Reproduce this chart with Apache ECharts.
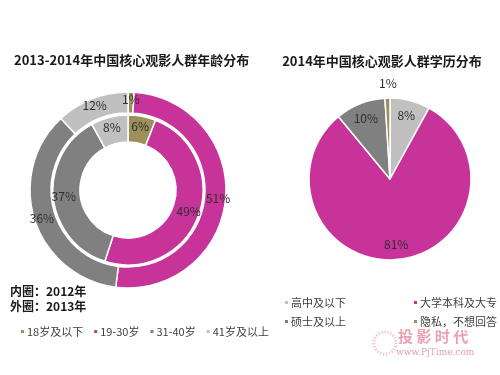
<!DOCTYPE html>
<html>
<head>
<meta charset="utf-8">
<script src="https://cdn.jsdelivr.net/npm/echarts@6/dist/echarts.min.js"></script>
<style>
  html, body { margin: 0; padding: 0; background: #fff; }
  #main { width: 500px; height: 375px; }
</style>
</head>
<body>
<div id="main"></div>
<script>
// 年龄分布
var ageNames = ["18岁及以下", "19-30岁", "31-40岁", "41岁及以上"];
var age2012 = [6, 49, 37, 8];   // 内圈
var age2013 = [1, 51, 36, 12];  // 外圈
// 学历分布
var eduNames = ["高中及以下", "大学本科及大专", "硕士及以上", "隐私，不想回答"];
var edu2014 = [8, 81, 10, 1];

var colors = ["#9c8f5c", "#c8339a", "#808080", "#c0c0c0"];
var eduColors = ["#c0c0c0", "#c8339a", "#808080", "#9c8f5c"];
var font = "'Noto Sans CJK SC', sans-serif";

function toData(names, vals, cols) {
  return names.map(function (n, i) {
    return { name: n, value: vals[i], itemStyle: { color: cols[i] } };
  });
}

var pctLabel = {
  show: true,
  position: "inside",
  formatter: "{c}%",
  color: "#2e2e2e",
  fontSize: 12,
  fontFamily: font
};

var eduLabelData = toData(eduNames, edu2014, eduColors).map(function (d, i) {
  d.itemStyle = { color: "rgba(0,0,0,0)" };
  if (i == 3) {
    // 1% 放在饼图上方
    d.label = { offset: [0, -30] };
  }
  return d;
});

var legendText = { fontSize: 11, color: "#404040", fontFamily: font, padding: [0, 0, 0, -3] };

var chart = echarts.init(document.getElementById("main"));
chart.setOption({
  animation: false,
  title: [
    {
      text: "2013-2014年中国核心观影人群年龄分布",
      left: 9, top: 49,
      textStyle: { fontSize: 13, fontWeight: "bold", color: "#1a1a1a", fontFamily: font }
    },
    {
      text: "2014年中国核心观影人群学历分布",
      left: 377, top: 50, textAlign: "center",
      textStyle: { fontSize: 13, fontWeight: "bold", color: "#1a1a1a", fontFamily: font }
    }
  ],
  legend: [
    {
      data: ageNames,
      left: 14, top: 321,
      icon: "rect", itemWidth: 5, itemHeight: 5, itemGap: 9,
      textStyle: legendText
    },
    {
      data: [eduNames[0], eduNames[2]],
      orient: "vertical",
      left: 278, top: 292,
      icon: "rect", itemWidth: 5, itemHeight: 5, itemGap: 8,
      textStyle: legendText
    },
    {
      data: [eduNames[1], eduNames[3]],
      orient: "vertical",
      left: 407, top: 292,
      icon: "rect", itemWidth: 5, itemHeight: 5, itemGap: 8,
      textStyle: legendText
    }
  ],
  graphic: [
    {
      type: "text", left: 10, top: 284,
      style: { text: "内圈：2012年\n外圈：2013年", fontSize: 12, fontWeight: "bold", lineHeight: 15, fill: "#1a1a1a", fontFamily: font }
    },
    {
      type: "text", left: 398, top: 329,
      style: { text: "投 影 时 代", fontSize: 15, fontWeight: "bold", fill: "#ee9fb0", fontFamily: font }
    },
    {
      type: "text", left: 396, top: 348,
      style: { text: "www.PjTime.com", fontSize: 9, fill: "#e8a0b0", fontFamily: "'DejaVu Serif', serif" }
    },
    {
      type: "circle", shape: { cx: 385, cy: 343, r: 11 },
      style: { fill: "none", stroke: "#f2b5c2", lineWidth: 3, lineDash: [1, 2] }
    }
  ],
  series: [
    {
      name: "2012",
      type: "pie",
      center: [128, 190],
      radius: [48, 75],
      startAngle: 90,
      clockwise: true,
      silent: true,
      data: toData(ageNames, age2012, colors),
      itemStyle: { borderColor: "#fff", borderWidth: 1.5 },
      label: pctLabel,
      labelLine: { show: false }
    },
    {
      name: "2013",
      type: "pie",
      center: [128, 190],
      radius: [77, 98],
      startAngle: 90,
      clockwise: true,
      silent: true,
      data: toData(ageNames, age2013, colors),
      itemStyle: { borderColor: "#fff", borderWidth: 1.5 },
      label: pctLabel,
      labelLine: { show: false }
    },
    {
      name: "2014",
      type: "pie",
      center: [390, 179],
      radius: [0, 81],
      startAngle: 90,
      clockwise: true,
      silent: true,
      data: toData(eduNames, edu2014, eduColors),
      itemStyle: { borderColor: "#fff", borderWidth: 1.5 },
      label: { show: false },
      labelLine: { show: false }
    },
    {
      // 只用来放标签
      name: "2014标签",
      type: "pie",
      center: [390, 179],
      radius: [44, 81],
      startAngle: 90,
      clockwise: true,
      silent: true,
      data: eduLabelData,
      label: pctLabel,
      labelLine: { show: false }
    }
  ]
});
</script>
</body>
</html>
